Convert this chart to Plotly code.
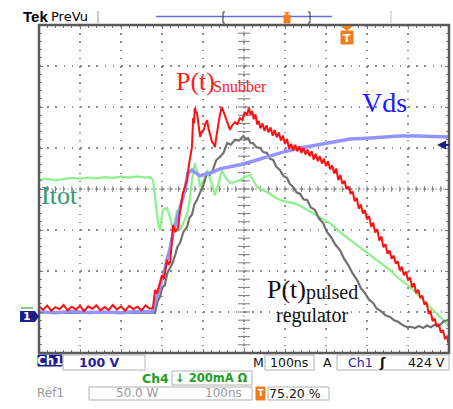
import plotly.graph_objects as go

# ---- data (x: time in ns, 100 ns/div ; y: screen divisions, 0 = centre) ----
vds_t = [0, 40, 80, 120, 160, 200, 240, 276, 285, 295, 305, 312, 320, 327, 337, 349, 356, 363, 373, 383,
         393, 407, 424, 441, 466, 490, 515, 556, 595, 637, 678, 717, 759, 800, 839, 880, 922, 961, 1000]
vds_v = [-3.00, -3.02, -2.99, -3.01, -3.00, -3.02, -2.99, -3.00, -2.71, -2.39, -2.05, -1.73, -1.44, -1.07, -0.71, -0.27, -0.02, 0.39, 0.46, 0.39,
         0.32, 0.37, 0.41, 0.49, 0.54, 0.59, 0.66, 0.78, 0.90, 1.00, 1.07, 1.15, 1.22, 1.24, 1.27, 1.29, 1.29, 1.29, 1.27]

itot_t = [0, 20, 40, 60, 80, 100, 120, 140, 160, 180,
          200, 220, 240, 260, 271, 278, 283, 290, 295, 302,
          312, 320, 327, 337, 344, 354, 361, 368, 373, 380,
          388, 393, 402, 410, 420, 429, 437, 446, 456, 466,
          478, 490, 502, 515, 524, 532, 544, 556, 571, 588,
          605, 620, 637, 654, 673, 693, 712, 734, 759, 783,
          807, 832, 856, 880, 905, 929, 954, 978, 1000]
itot_v = [0.22, 0.25, 0.21, 0.24, 0.27, 0.25, 0.28, 0.26, 0.29, 0.27,
          0.30, 0.28, 0.31, 0.28, 0.29, 0.22, -0.27, -0.80, -1.00, -0.51,
          -0.46, -0.71, -1.00, -0.51, -1.00, -0.80, -0.63, -0.27, 0.22, 0.63,
          0.34, 0.05, 0.22, 0.46, 0.17, -0.15, 0.10, 0.46, 0.27, 0.15,
          0.17, 0.22, 0.29, 0.34, 0.17, 0.05, -0.02, -0.07, -0.17, -0.27,
          -0.32, -0.34, -0.41, -0.51, -0.61, -0.73, -0.85, -1.05, -1.24, -1.41,
          -1.61, -1.80, -1.98, -2.20, -2.39, -2.63, -2.88, -3.12, -3.34]

preg_t = [0, 100, 200, 283, 289, 295, 301, 307, 313, 320,
          326, 332, 338, 344, 352, 361, 367, 373, 379, 385,
          393, 401, 410, 417, 424, 432, 441, 450, 459, 468,
          478, 488, 498, 504, 510, 516, 522, 530, 539, 547,
          556, 563, 571, 579, 588, 596, 605, 612, 620, 628,
          637, 645, 654, 663, 673, 683, 693, 702, 712, 723,
          734, 744, 754, 765, 776, 785, 795, 805, 815, 824,
          834, 845, 856, 866, 876, 887, 898, 907, 917, 927,
          937, 946, 956, 967, 978, 988, 998]
preg_v = [-3.02, -3.02, -3.02, -3.02, -2.75, -2.63, -2.40, -2.34, -2.05, -1.90,
          -1.80, -1.61, -1.40, -1.32, -1.05, -0.93, -0.70, -0.63, -0.38, -0.27,
          -0.10, 0.10, 0.39, 0.35, 0.46, 0.70, 0.78, 0.88, 1.12, 1.08,
          1.20, 1.18, 1.29, 1.22, 1.24, 1.12, 1.12, 1.02, 1.00, 0.90,
          0.88, 0.74, 0.71, 0.54, 0.46, 0.32, 0.27, 0.12, 0.05, -0.08,
          -0.12, -0.25, -0.27, -0.45, -0.51, -0.72, -0.83, -1.04, -1.17, -1.36,
          -1.49, -1.70, -1.85, -2.06, -2.22, -2.42, -2.54, -2.70, -2.78, -2.92,
          -2.98, -3.08, -3.12, -3.20, -3.24, -3.32, -3.37, -3.36, -3.39, -3.34,
          -3.39, -3.33, -3.37, -3.30, -3.32, -3.22, -3.20]

psnub_t = [0, 10, 20, 30, 40, 50, 60, 70, 80, 90, 100, 110, 120, 130, 140, 150, 160, 170, 180, 190,
           200, 210, 220, 230, 240, 250, 260, 270, 278, 283, 288, 295, 300, 305, 312, 316, 320, 324,
           327, 332, 339, 344, 349, 351, 356, 361, 365, 368, 373, 376, 378, 380, 383, 385, 389, 393,
           397, 402, 406, 410, 414, 417, 422, 426, 429, 433, 437, 441, 446, 451, 456, 461, 466, 471,
           478, 484, 490, 496, 502, 507, 512, 516, 520, 524, 528, 532, 536, 540, 545, 550, 555, 560,
           565, 570, 575, 580, 585, 590, 595, 600, 605, 610, 615, 620, 625, 630, 635, 640, 645, 650,
           655, 660, 665, 670, 675, 680, 685, 690, 695, 700, 705, 710, 715, 720, 725, 730, 735, 740,
           745, 750, 755, 760, 765, 770, 775, 780, 785, 790, 795, 800, 805, 810, 815, 820, 825, 830,
           835, 840, 845, 850, 855, 860, 865, 870, 875, 880, 885, 890, 895, 900, 905, 910, 915, 920,
           925, 930, 935, 940, 945, 950, 955, 960, 965, 970, 975, 980, 985, 990, 995, 1000]
psnub_v = [-2.86, -2.95, -2.84, -2.97, -2.88, -2.93, -2.83, -2.96, -2.87, -2.94, -2.85, -2.98, -2.86, -2.92, -2.84, -2.96, -2.88, -2.95, -2.83, -2.94,
           -2.86, -2.97, -2.85, -2.93, -2.87, -2.96, -2.84, -2.92, -2.90, -2.46, -2.55, -2.29, -2.10, -2.20, -1.73, -1.85, -1.78, -1.30,
           -0.88, -1.05, -0.95, -0.55, -0.27, -0.10, 0.05, 0.22, 0.55, 0.71, 1.02, 1.73, 1.60, 1.98, 1.85, 1.88, 1.55, 1.27,
           1.40, 1.44, 1.60, 1.68, 1.45, 1.32, 1.15, 1.10, 1.02, 1.30, 1.56, 1.80, 2.00, 1.85, 1.73, 1.55, 1.44, 1.55,
           1.63, 1.58, 1.73, 1.68, 1.88, 1.80, 1.98, 1.80, 1.90, 1.70, 1.82, 1.58, 1.66, 1.48, 1.60, 1.42, 1.55, 1.38,
           1.50, 1.30, 1.44, 1.26, 1.38, 1.18, 1.30, 1.10, 1.22, 0.98, 1.10, 0.94, 1.08, 0.92, 1.04, 0.88, 1.00, 0.84,
           0.96, 0.80, 0.92, 0.72, 0.86, 0.68, 0.80, 0.62, 0.74, 0.56, 0.68, 0.48, 0.58, 0.38, 0.50, 0.22, 0.34, 0.12,
           0.20, 0.00, 0.06, -0.12, -0.06, -0.30, -0.22, -0.48, -0.38, -0.60, -0.52, -0.74, -0.66, -0.92, -0.82, -1.06, -0.98, -1.26,
           -1.16, -1.42, -1.34, -1.58, -1.50, -1.70, -1.62, -1.82, -1.76, -1.98, -1.90, -2.10, -2.02, -2.22, -2.16, -2.40, -2.30, -2.54,
           -2.46, -2.66, -2.60, -2.82, -2.76, -3.02, -2.98, -3.22, -3.16, -3.36, -3.30, -3.50, -3.44, -3.64, -3.60, -3.82]

# ---- geometry helpers (pixel -> paper) ----
W, H = 453, 409
L, R, T, B = 39, 449, 25, 353


def px(x):
    return (x - L) / (R - L)


def py(y):
    return (B - y) / (B - T)


fig = go.Figure()

# centre cross lines (graticule) with small ticks every 1/5 division
fig.add_trace(go.Scatter(x=[0, 1000], y=[0, 0], mode="lines", hoverinfo="skip",
                         line=dict(color="#9a9a9a", width=1, dash="2px,2px")))
fig.add_trace(go.Scatter(x=[500, 500], y=[-4, 4], mode="lines", hoverinfo="skip",
                         line=dict(color="#9a9a9a", width=1, dash="2px,2px")))
cx, cy = [], []
for j in range(51):
    cx += [j * 20, j * 20, None]
    cy += [-0.07, 0.07, None]
for j in range(41):
    cx += [485, 515, None]
    cy += [-4 + j * 0.2, -4 + j * 0.2, None]
fig.add_trace(go.Scatter(x=cx, y=cy, mode="lines", hoverinfo="skip",
                         line=dict(color="#7a7a7a", width=1)))

# waveforms
fig.add_trace(go.Scatter(x=itot_t, y=itot_v, mode="lines", name="Itot",
                         line=dict(color="#8cf08c", width=2.2)))
fig.add_trace(go.Scatter(x=preg_t, y=preg_v, mode="lines", name="P(t) pulsed regulator",
                         line=dict(color="#707070", width=2.2)))
fig.add_trace(go.Scatter(x=vds_t, y=vds_v, mode="lines", name="Vds",
                         line=dict(color="#9494ff", width=3.5)))
fig.add_trace(go.Scatter(x=psnub_t, y=psnub_v, mode="lines", name="P(t) Snubber",
                         line=dict(color="#ff1010", width=2)))

shapes = []
ann = []


def rect(x0, y0, x1, y1, line="#b0b0b0", fill="rgba(0,0,0,0)", w=1):
    shapes.append(dict(type="rect", xref="paper", yref="paper", x0=px(x0), x1=px(x1),
                       y0=py(y1), y1=py(y0), line=dict(color=line, width=w), fillcolor=fill, layer="above"))


def seg(x0, y0, x1, y1, color, w=1):
    shapes.append(dict(type="line", xref="paper", yref="paper", x0=px(x0), x1=px(x1),
                       y0=py(y0), y1=py(y1), line=dict(color=color, width=w), layer="above"))


def poly(pts, color):
    p = "M " + " L ".join(f"{px(a):.5f},{py(b):.5f}" for a, b in pts) + " Z"
    shapes.append(dict(type="path", xref="paper", yref="paper", path=p,
                       fillcolor=color, line=dict(color=color, width=0), layer="above"))


def text(s, x, y, size, color, family="DejaVu Sans", xanchor="left", bold=False):
    if bold:
        s = "<b>" + s + "</b>"
    ann.append(dict(text=s, x=px(x), y=py(y), xref="paper", yref="paper", showarrow=False,
                    xanchor=xanchor, yanchor="middle", font=dict(size=size, color=color, family=family),
                    borderpad=0))


# frame
rect(L, T, R, B, line="#5a5a5a", w=2.5)

# trace labels
SERIF = "Liberation Serif"
text("P(t)", 175, 81, 26, "#ff1a1a", SERIF)
text("Snubber", 212, 87, 16, "#ff1a1a", SERIF)
text("Vds", 361, 102, 28, "#1a1aff", SERIF)
text("Itot", 40, 195, 26, "#339966", SERIF)
text("P(t)", 266, 289, 26, "#111111", SERIF)
text("pulsed", 305, 292, 20, "#111111", SERIF)
text("regulator", 275, 315, 20, "#111111", SERIF)

# top bar
text("Tek", 22, 17, 15, "#000", "Liberation Sans", bold=True)
text("PreVu", 50, 17, 13, "#000", "DejaVu Sans")
seg(98, 11, 98, 23, "#999", 1)
seg(391, 11, 391, 23, "#bbb", 1)
seg(156, 16.5, 332, 16.5, "#6a6ad8", 1.5)
seg(223, 12, 223, 23, "#333", 1)
seg(223, 12, 225, 12, "#333", 1)
seg(223, 23, 225, 23, "#333", 1)
seg(310, 12, 310, 23, "#333", 1)
seg(308, 12, 310, 12, "#333", 1)
seg(308, 23, 310, 23, "#333", 1)
poly([(284, 12), (290, 12), (287, 15)], "#f07d1a")
rect(284, 15, 290, 23, line="#f07d1a", fill="#f07d1a")
# trigger marker at top of graticule
poly([(341, 26), (353, 26), (347, 31)], "#f07d1a")
rect(341, 31, 353, 44, line="#f07d1a", fill="#f07d1a")
text("T", 347, 38, 11, "#ffffff", "DejaVu Sans", xanchor="center", bold=True)

# channel-1 ground marker
poly([(20, 311), (35, 311), (39, 316.5), (35, 322), (20, 322)], "#1c1c8c")
text("1", 27, 316.5, 11, "#ffffff", "DejaVu Sans", xanchor="center", bold=True)
seg(21, 308, 33, 308, "#33aa33", 1.2)
# right reference marker
poly([(437, 145), (446, 140.5), (446, 149.5)], "#1c1c8c")
seg(446, 145, 449, 145, "#1c1c8c", 2)

# bottom readouts
rect(38, 355, 62, 366, line="#1c1c8c", fill="#1c1c8c")
text("Ch1", 50, 360.5, 12, "#ffffff", "DejaVu Sans", xanchor="center", bold=True)
rect(63, 355, 145, 370)
text("100 V", 99, 362, 12.5, "#1e1ea0", "DejaVu Sans", xanchor="center", bold=True)
text("M", 258, 362, 12.5, "#111", "DejaVu Sans", xanchor="center")
rect(265, 355, 314, 370)
text("100ns", 289, 362, 12.5, "#111", "DejaVu Sans", xanchor="center")
text("A", 327, 362, 12.5, "#111", "DejaVu Sans", xanchor="center")
rect(337, 355, 449, 370)
text("Ch1", 347, 362, 12.5, "#1e1ea0", "DejaVu Sans")
text("ʃ", 382, 362, 13, "#111", "DejaVu Sans", xanchor="center", bold=True)
text("424 V", 446, 362, 12.5, "#111", "DejaVu Sans", xanchor="right")

text("Ch4", 170, 378, 12.5, "#22a022", "DejaVu Sans", xanchor="right", bold=True)
rect(172, 371, 252, 385)
text("↓ 200mA Ω", 174, 378, 11.5, "#22a022", "DejaVu Sans", bold=True)

text("Réf1", 50, 393, 12, "#999999", "DejaVu Sans", xanchor="center")
rect(89, 387, 252, 400)
text("50.0 W", 137, 393, 12, "#999999", "DejaVu Sans", xanchor="center")
text("100ns", 223, 393, 12, "#999999", "DejaVu Sans", xanchor="center")
rect(256, 387, 265, 400, line="#f07d1a", fill="#f07d1a")
text("T", 260.5, 393.5, 8, "#ffffff", "DejaVu Sans", xanchor="center", bold=True)
rect(268, 387, 329, 400)
text("75.20 %", 295, 393.5, 12.5, "#111", "DejaVu Sans", xanchor="center")

axis_common = dict(showgrid=True, gridcolor="#8a8a8a", gridwidth=1.5, griddash="1.5px,6.7px",
                   zeroline=False, showticklabels=False, ticks="inside", ticklen=4,
                   tickcolor="#777", tickwidth=1, mirror="allticks", showline=False, fixedrange=True)
fig.update_layout(
    width=W, height=H,
    margin=dict(l=L, r=W - R, t=T, b=H - B, pad=0),
    paper_bgcolor="white", plot_bgcolor="white",
    showlegend=False,
    xaxis=dict(range=[0, 1000], tick0=0, dtick=100,
               minor=dict(dtick=20, tick0=0, ticks="inside", ticklen=3, tickcolor="#777", showgrid=False),
               **axis_common),
    yaxis=dict(range=[-4, 4], tick0=0, dtick=1,
               minor=dict(dtick=0.2, tick0=0, ticks="inside", ticklen=3, tickcolor="#777", showgrid=False),
               **axis_common),
    shapes=shapes, annotations=ann,
)

# remove the browser's default page margin so the figure sits at (0, 0)
fig.write_html("out.html", config={"displayModeBar": False},
               post_script="document.body.style.margin='0';document.body.style.overflow='hidden';")
